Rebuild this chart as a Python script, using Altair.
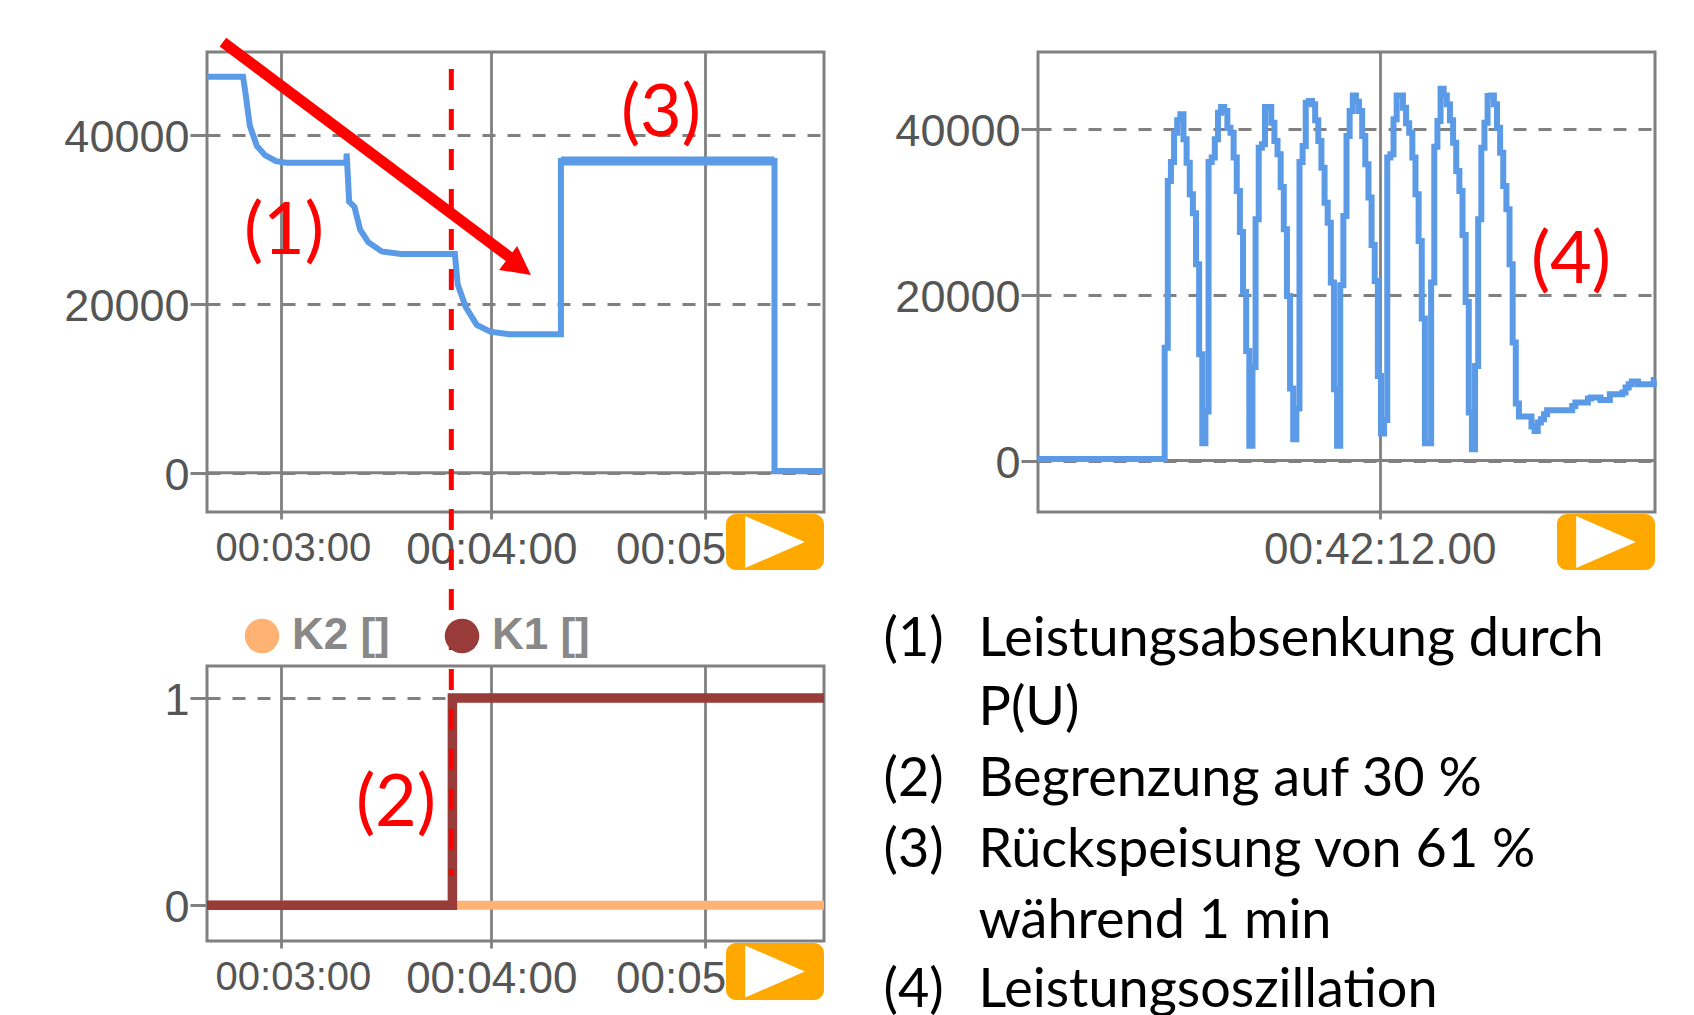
import altair as alt
import pandas as pd

# --- top left: power over time
power_s = [159.1, 169.3, 170.1, 171.2, 173.2, 175.5, 178.6, 181.6, 198.5, 198.6, 199.3, 200.8, 202.4, 204.7,
           208.5, 213.9, 229.2, 230.0, 232.3, 235.4, 239.2, 244.6, 259.2, 259.2, 319.6, 319.6, 333.6]
power_w = [46900, 46900, 44600, 41100, 38700, 37600, 36900, 36700, 36700, 37800, 32100, 31500, 28800, 27300,
           26200, 25900, 25900, 22300, 19600, 17500, 16700, 16400, 16400, 36900, 36900, 200, 200]
feedback_s = [259.2, 319.6]
feedback_w = [36900, 36900]
arrow_s = [163.6, 244.7]
arrow_w = [51000, 25520]
minute_ticks = [180, 239.5, 300]
minute_labels = ["00:03:00", "00:04:00", "00:05:00"]
power_ticks = [0, 20000, 40000]
limit_s = 228.2

# --- bottom left: contactors
step_s = 228.5
k_start, k_end = 159.1, 333.6
k1_s = [k_start, step_s, step_s, k_end]
k1_v = [0, 0, 1, 1]
k2_s = [k_start, k_end]
k2_v = [0, 0]
series_names = ["K2 []", "K1 []"]

# --- top right: oscillation, one value per sample
osc_values = [
    13610, 33690, 35980, 39520, 41000, 41730, 38710, 35900, 32090, 29800, 23650, 12810, 2090, 5900,
    35980, 36510, 38710, 41930, 42610, 42130, 40120, 39520, 36510, 32490, 27550, 20320, 13210, 1770, 11290,
    29080, 37710, 38110, 42610, 42610, 40720, 38510, 36910, 32970, 27870, 19840, 8670, 2570, 6260,
    35980, 37910, 43130, 43330, 42930, 41000, 38510, 35300, 31080, 28670, 21450, 8590, 1770, 21120,
    29480, 39120, 42130, 44010, 43250, 42130, 39120, 35700, 31690, 25980, 21650, 10200, 3250, 4900,
    36510, 36910, 41120, 44010, 44010, 42530, 40640, 39520, 36510, 32090, 26470, 17110, 2090, 2090, 21450,
    37830, 40920, 44820, 44010, 42930, 41000, 38310, 34900, 32490, 27190, 19120, 5780, 1370, 11410,
    29080, 37710, 40720, 43930, 44010, 42930, 40120, 37110, 33090, 30280, 23650, 14220, 6870,
    5300, 5300, 5300, 5300, 4100, 3570, 4580, 4980, 5580, 6060, 6060, 6060, 6060, 6060, 6060, 6060, 6060,
    6590, 6990, 6990, 6990, 6990, 7470, 7590, 7590, 7590, 7310, 7310, 7310, 7990, 7990, 7990, 7990, 8190,
    8790, 9200, 9520, 9520, 9200, 9200, 9200, 9200, 9200, 9720,
]
osc_start = -40.4
osc_end = 156.4
osc_flat = 200
osc_tick = 68.6
osc_tick_label = "00:42:12.00"

# --- text
notes = [
    ("(1)", "Leistungsabsenkung durch"),
    ("", "P(U)"),
    ("(2)", "Begrenzung auf 30 %"),
    ("(3)", "Rückspeisung von 61 %"),
    ("", "während 1 min"),
    ("(4)", "Leistungsoszillation"),
]

GREY = "#808080"
BLUE = "#5a9ae6"
RED = "#ff0000"
LABEL = "#555555"
AXIS_FONT = "Liberation Sans"
W, H, H2 = 617, 460, 275
one = pd.DataFrame({"a": [0]})


def red_label(text, x, y):
    return alt.Chart(one).mark_text(text=text, font="Lato", fontSize=72, color=RED, align="center",
                                    baseline="middle").encode(x=alt.value(x), y=alt.value(y))


def play_button(y0, y1):
    rect = alt.Chart(one).mark_rect(color="#ffa800", cornerRadius=10).encode(
        x=alt.value(519), x2=alt.value(617), y=alt.value(y0), y2=alt.value(y1))
    tri = alt.Chart(one).mark_point(shape="M-1.146,-1L1.146,0L-1.146,1Z", filled=True, fill="white", opacity=1,
                                    size=2704, strokeWidth=0).encode(
        x=alt.value(568), y=alt.value((y0 + y1) / 2))
    return rect + tri


def x_axis(values, labels, cond=True):
    expr = "".join(f"datum.value=={v}?'{t}':" for v, t in zip(values, labels)) + "''"
    kw = dict(values=values, labelExpr=expr, title=None, domain=False, grid=True, gridColor=GREY, gridWidth=2.8,
              tickColor=GREY, tickWidth=2.8, tickSize=7, labelFont=AXIS_FONT, labelColor=LABEL, labelPadding=9,
              labelFontSize=44, labelOverlap=False, labelFlush=False, labelLimit=500)
    if cond:
        kw["labelOffset"] = {"condition": [{"test": "datum.value==180", "value": 12},
                                           {"test": "datum.value==300", "value": -4}], "value": 0}
        kw["labelFontSize"] = {"condition": {"test": "datum.value==180", "value": 40}, "value": 44}
    return alt.Axis(**kw)


def y_axis(values):
    return alt.Axis(values=values, title=None, domain=False, grid=True, gridColor=GREY, gridWidth=3,
                    gridDash=[13, 12], tickColor=GREY, tickWidth=3, tickSize=17, labelFont=AXIS_FONT,
                    labelColor=LABEL, labelFontSize=45, labelPadding=1, labelOffset=2.5, format="d",
                    labelOverlap=False, labelFlush=False)


min_x = alt.Scale(domain=[159.1, 333.6], nice=False, zero=False)

# top left
top_df = pd.DataFrame({"s": power_s, "w": power_w})
tl_line = alt.Chart(top_df).mark_line(color=BLUE, strokeWidth=6).encode(
    x=alt.X("s:Q", scale=min_x, axis=x_axis(minute_ticks, minute_labels)),
    y=alt.Y("w:Q", scale=alt.Scale(domain=[-4650, 49820], nice=False, zero=False), axis=y_axis(power_ticks)))
tl_zero = alt.Chart(one).mark_rule(color=GREY, strokeWidth=3).encode(y=alt.datum(0))
tl_thick = alt.Chart(pd.DataFrame({"s": feedback_s, "w": feedback_w})).mark_line(color=BLUE, strokeWidth=9).encode(
    x="s:Q", y="w:Q")
tl_arrow = alt.Chart(pd.DataFrame({"s": arrow_s, "w": arrow_w})).mark_line(color=RED, strokeWidth=11).encode(
    x="s:Q", y="w:Q")
tl_head = alt.Chart(one).mark_point(shape="M-0.95,-1L0.95,0L-0.95,1Z", filled=True, fill=RED, opacity=1, size=900,
                                    strokeWidth=0, angle=37).encode(x=alt.value(312.5), y=alt.value(214.5))
top_left = alt.layer(tl_zero, tl_line, tl_thick, tl_arrow, tl_head, red_label("(1)", 77, 180),
                     red_label("(3)", 454, 62), play_button(462, 518)).properties(width=W, height=H)

# bottom left
k_x = alt.X("s:Q", scale=min_x, axis=x_axis(minute_ticks, minute_labels))
k_y = alt.Y("v:Q", scale=alt.Scale(domain=[-0.173, 1.155], nice=False, zero=False), axis=y_axis([0, 1]))
k2_df = pd.DataFrame({"s": k2_s, "v": k2_v, "k": series_names[0]})
k1_df = pd.DataFrame({"s": k1_s, "v": k1_v, "k": series_names[1]})
k_color = alt.Scale(domain=series_names, range=["#ffb273", "#993b39"])
bl_k2 = alt.Chart(k2_df).mark_line(strokeWidth=9, color="#ffb273").encode(x=k_x, y=k_y)
bl_k1 = alt.Chart(k1_df).mark_line(strokeWidth=9.5, color="#993b39").encode(x=k_x, y=k_y)
bl_legend = alt.Chart(pd.concat([k2_df, k1_df])).mark_circle(size=0, opacity=1).encode(
    x=k_x, y=k_y,
    color=alt.Color("k:N", scale=k_color, sort=series_names,
                    legend=alt.Legend(title=None, orient="none", legendX=33, legendY=562, direction="horizontal",
                                      columns=2, symbolType="circle", symbolSize=1195, symbolStrokeWidth=0,
                                      labelFont=AXIS_FONT, labelFontWeight="bold", labelFontSize=44,
                                      labelColor="#888888", labelOffset=8, columnPadding=50, symbolOpacity=1)))
bl_rule = alt.Chart(one).mark_rule(color=RED, strokeWidth=5, strokeDash=[21, 19]).encode(
    x=alt.datum(limit_s), y=alt.value(-597), y2=alt.value(210))
bottom_left = alt.layer(bl_k2, bl_k1, bl_legend, bl_rule, red_label("(2)", 189, 138),
                        play_button(277, 334)).properties(width=W, height=H2)

# top right
osc_x = [osc_start] + list(range(len(osc_values))) + [osc_end]
osc_y = [osc_flat] + osc_values + [osc_values[-1]]
tr_line = alt.Chart(pd.DataFrame({"x": osc_x, "w": osc_y})).mark_line(
    color=BLUE, strokeWidth=6, interpolate="step-after").encode(
    x=alt.X("x:Q", scale=alt.Scale(domain=[osc_start, osc_end], nice=False, zero=False),
            axis=x_axis([osc_tick], [osc_tick_label], cond=False)),
    y=alt.Y("w:Q", scale=alt.Scale(domain=[-6200, 49240], nice=False, zero=False), axis=y_axis(power_ticks)))
tr_zero = alt.Chart(one).mark_rule(color=GREY, strokeWidth=3).encode(y=alt.datum(0))
top_right = alt.layer(tr_zero, tr_line, red_label("(4)", 533, 209), play_button(462, 518)).properties(
    width=W, height=H)

# text panel
base_lines = [-10, 59, 130, 201, 272, 341]
layers = []
for (num, txt), b in zip(notes, base_lines):
    if num:
        layers.append(alt.Chart(one).mark_text(text=num, font="Lato", fontSize=54, color="black", align="left",
                                               baseline="alphabetic").encode(x=alt.value(-154.5), y=alt.value(b)))
    layers.append(alt.Chart(one).mark_text(text=txt, font="Lato", fontSize=54, color="black", align="left",
                                           baseline="alphabetic").encode(x=alt.value(-59.5), y=alt.value(b)))
text_panel = alt.layer(*layers).properties(width=W, height=H2, view=alt.ViewConfig(stroke=None))

chart = alt.concat(top_left, top_right, bottom_left, text_panel, columns=2).properties(
    bounds="flush", spacing={"row": 154, "column": 214}, background="white",
    padding={"left": 54, "top": 10, "right": 0, "bottom": 0},
).configure_view(stroke=GREY, strokeWidth=3)

chart.save("out.html", embed_options={"renderer": "svg", "actions": False})
